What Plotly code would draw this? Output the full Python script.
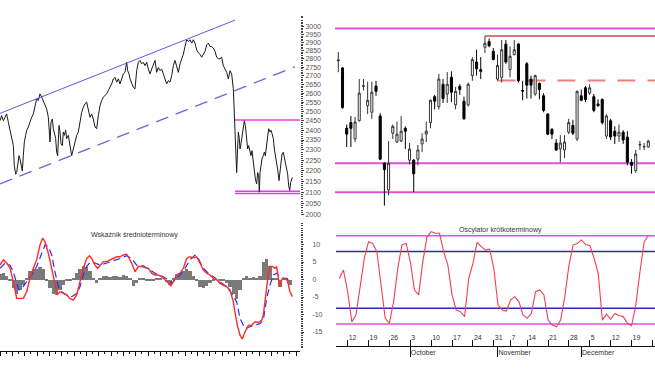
import plotly.graph_objects as go
import pandas as pd

W, H = 655, 369
FONT = "Liberation Sans, Arial, sans-serif"

# ---------------- top-left: long-term closing prices ----------------
left_session = [0,5,10,15,20,25,30,35,40,43,47,50,53,57,60,63,67,70,73,77,80,85,90,95,100,105,110,115,120,125,
                130,135,140,145,150,153,157,160,163,167,170,173,177,180,183,187,190,193,197,200,205,210,215,220,225,230,235,240,245,250,
                255,260,265,270,275,280,285,290,295,300,305,310,315,320,325,330,335,340,345,350,355,360,365,370,375,380,383,387,390,395,
                400,405,410,415,420,425,430,435,440,445,450,455,460,465,470,475,480,485,490,495,500,505,510,515,520,525,530,535,540,545,
                550,555,560,565,570,575,580,585,590,595,600,605,610,615,620,625,630,635,640,645,650,655,660,665,670,675,680,685,690,695,
                698,700,702,704,706,708,710,712,715,718,720,723,727,730,733,736,740,743,746,750,753,756,760,763,766,770,773,776,778,780,
                783,786,790,793,796,800,803,806,810,813,816,820,823,827,830,833,837,840,843,846,850,853,856,860,863,866,869,872,875,877]
left_close = [2450,2477,2450,2468,2486,2442,2400,2374,2322,2223,2183,2191,2240,2272,2256,2223,2198,2272,2340,2374,
              2400,2417,2450,2468,2486,2522,2568,2559,2596,2578,2559,2541,2513,2468,2340,2442,2459,2408,2383,2357,
              2289,2272,2425,2391,2331,2322,2391,2374,2400,2357,2374,2322,2272,2305,2340,2374,2391,2442,2494,2522,
              2541,2550,2513,2468,2486,2459,2417,2408,2477,2531,2559,2578,2587,2596,2615,2633,2652,2681,2690,2662,
              2681,2652,2681,2710,2719,2779,2729,2710,2681,2652,2633,2624,2729,2779,2790,2769,2779,2758,2779,2738,
              2710,2738,2769,2790,2719,2748,2729,2738,2710,2681,2652,2671,2662,2700,2758,2790,2748,2719,2769,2800,
              2827,2875,2917,2906,2917,2896,2917,2896,2854,2836,2827,2809,2827,2845,2885,2896,2875,2875,2865,2845,
              2809,2800,2800,2809,2758,2738,2719,2681,2729,2710,2662,2624,2531,2425,2340,2256,2191,2272,2391,2357,
              2305,2331,2374,2400,2450,2425,2340,2305,2322,2289,2272,2297,2240,2183,2161,2138,2191,2176,2100,2191,
              2240,2256,2272,2289,2272,2322,2357,2408,2391,2400,2383,2357,2305,2272,2240,2206,2153,2206,2256,2280,
              2289,2264,2223,2206,2183,2130,2108,2145,2161,2168]
channel_top_x = [0, 705]
channel_top_y = [2489, 3043]
channel_bottom_x = [0, 885]
channel_bottom_y = [2138, 2752]
left_levels_start = 705
left_resistance = [2453]
left_support = [2104, 2094]
left_session_max = 900

# ---------------- top-right: daily candles ----------------
holidays = ["2011-11-01", "2011-11-11"]
candle_dates = [d for d in pd.bdate_range("2011-09-08", "2011-12-23") if d.strftime("%Y-%m-%d") not in holidays]
opens = [2788,2745,2410,2440,2355,2450,2638,2530,2495,2640,2475,2235,2110,2385,2340,2345,2410,2250,2250,2255,
         2330,2380,2440,2580,2525,2650,2595,2690,2535,2638,2555,2535,2700,2780,2735,2870,2905,2845,2680,2690,
         2890,2735,2825,2890,2615,2770,2680,2595,2655,2585,2485,2405,2335,2305,2300,2390,2425,2355,2585,2630,
         2600,2580,2540,2565,2370,2450,2395,2370,2390,2365,2240,2200,2325,2315,2315]
highs = [2840,2750,2430,2475,2470,2680,2680,2665,2665,2670,2490,2240,2345,2430,2445,2475,2420,2335,2255,2325,
         2385,2445,2565,2590,2710,2680,2720,2725,2635,2650,2580,2660,2810,2855,2810,2940,2925,2865,2825,2915,
         2915,2875,2915,2895,2670,2780,2700,2705,2660,2600,2490,2410,2355,2375,2375,2460,2455,2615,2620,2640,
         2650,2595,2565,2570,2485,2460,2420,2430,2400,2395,2255,2300,2345,2335,2350]
lows = [2720,2515,2315,2315,2340,2445,2615,2485,2460,2585,2250,2040,2085,2355,2335,2340,2305,2230,2100,2225,
        2290,2340,2410,2510,2510,2545,2545,2550,2510,2590,2455,2525,2670,2700,2680,2835,2870,2790,2670,2660,
        2770,2690,2820,2660,2560,2570,2570,2585,2565,2495,2375,2355,2295,2240,2260,2380,2375,2345,2555,2550,
        2590,2495,2525,2430,2355,2350,2330,2340,2330,2225,2185,2190,2300,2300,2312]
closes = [2792,2520,2380,2410,2443,2600,2641,2560,2605,2610,2255,2205,2235,2420,2380,2395,2395,2305,2185,2300,
          2355,2395,2560,2555,2680,2570,2650,2605,2610,2620,2460,2650,2795,2740,2725,2895,2880,2795,2760,2855,
          2780,2815,2855,2670,2612,2645,2645,2700,2620,2505,2380,2380,2300,2335,2340,2440,2385,2610,2560,2565,
          2630,2505,2530,2440,2475,2365,2370,2390,2350,2240,2225,2280,2327,2317,2345]
right_levels_magenta = [2988, 2235, 2100]
peak_level = 2940
peak_level_start = 35
pullback_level = 2671
pullback_level_start = 38

price_ticks = list(range(2000, 3001, 50))
price_minor = [v for v in range(1990, 3080, 10) if v % 50]

# ---------------- bottom-left: medium-term indicator ----------------
macd_x = [0,10,20,30,40,45,50,60,70,80,90,100,110,120,128,135,145,155,165,172,180,190,200,210,220,230,240,250,260,268,
          275,285,293,300,310,320,330,340,350,360,370,380,385,395,405,415,425,435,445,455,465,475,485,495,505,513,520,530,540,550,
          560,570,580,590,600,610,620,630,640,650,660,670,680,690,700,705,712,720,727,735,745,755,765,775,785,790,795,800,805,810,
          818,825,830,835,840,845,850,857,863,870,877]
macd_vals = [4.1,5.6,4.7,3.3,-0.6,-3.5,-5.4,-5.4,-5.4,-3.5,0.3,3.2,5.6,9.9,11.8,10.8,7.5,3.2,-1.6,-4.4,
             -3.5,-4.0,-4.4,-5.4,-5.9,-4.4,-0.6,3.2,6.0,6.8,6.0,4.1,3.2,4.1,5.1,5.1,5.6,6.0,6.5,6.5,
             7.0,7.2,6.5,4.7,2.2,3.7,3.7,3.4,3.2,1.8,1.3,1.3,0.8,-0.1,-1.1,-1.8,-0.6,1.3,1.8,3.2,
             6.0,6.5,6.2,6.5,4.7,2.7,1.8,1.3,0.3,-0.1,-1.1,-1.6,-2.1,-3.0,-6.4,-9.3,-13.1,-15.9,-17.0,-15.0,
             -13.1,-13.1,-12.1,-12.3,-11.6,-10.2,-6.4,-2.6,1.7,3.7,3.7,3.2,3.7,0.3,-2.1,-0.1,0.3,0.3,-0.6,-3.5,-4.9]
signal_x = [0,15,30,40,50,57,65,80,95,110,120,135,145,155,165,175,185,200,215,230,240,250,260,272,285,300,320,340,360,380,
            395,410,430,450,470,490,505,515,525,540,555,570,585,595,610,625,640,660,680,695,710,720,735,750,765,780,790,800,810,820,
            830,840,850,860,870]
signal_vals = [3.2,4.7,4.1,2.2,-1.1,-3.0,-2.6,-0.6,1.3,3.7,6.0,9.9,9.4,7.0,2.2,-2.1,-3.5,-4.4,-4.9,-4.0,
               -2.1,1.3,3.7,5.1,4.7,4.1,4.7,5.3,6.0,6.8,6.0,4.1,3.9,2.7,1.5,0.8,-0.1,-1.1,-0.1,1.3,
               3.2,5.6,7.0,6.0,3.2,1.8,0.8,-0.6,-2.1,-4.0,-6.4,-11.1,-14.0,-13.5,-13.1,-12.6,-11.6,-5.4,-1.6,1.3,
               1.8,0.8,0.3,0.3,-0.6]
hist_x = list(range(0, 880, 10))
hist_vals = [1.5,2.0,1.0,-0.5,-2.5,-4.0,-3.0,-1.5,0.5,2.5,
             3.0,3.0,3.5,3.0,-0.5,-2.5,-4.0,-4.5,-3.0,-1.5,
             -0.5,-0.3,0.5,2.0,3.0,3.8,3.5,2.5,0.5,-1.0,
             0.5,1.0,1.0,0.8,1.0,1.0,0.8,1.2,1.0,0.2,
             -1.8,-1.0,0.5,0.3,-0.3,-0.5,-0.3,0.2,0.3,0.0,
             -0.8,-1.5,0.5,1.5,2.0,2.5,3.0,2.5,1.0,-0.5,
             -2.0,-2.5,-1.8,-1.0,-0.5,0.0,-0.3,-0.5,-1.0,-2.0,
             -4.0,-5.5,-3.0,0.5,1.0,0.5,0.8,0.5,1.0,5.0,
             6.0,4.0,0.5,0.5,-2.0,0.5,0.2,-1.5]
ind_ticks = [-15, -10, -5, 0, 5, 10]
ind_minor = [v / 2 for v in range(-40, 33) if v % 10]

# ---------------- bottom-right: short-term oscillator ----------------
osc_vals = [0.3,2.7,-3.5,-12.1,-10.1,-2.5,6.1,10.8,10.3,7.9,
            -1.6,-11.1,-12.5,-6.3,3.2,9.9,10.3,5.1,-3.0,-4.4,
            5.1,12.2,13.7,13.2,13.2,7.9,4.1,-4.4,-8.7,-9.2,
            -10.6,0.3,4.6,10.6,9.4,8.4,8.7,3.2,-7.3,-8.7,
            -9.0,-5.9,-4.9,-6.3,-10.1,-11.1,-9.7,-3.5,-3.0,-4.4,
            -11.6,-13.0,-13.5,-11.6,-4.9,4.1,9.9,10.3,11.3,10.0,
            9.7,6.1,1.8,-11.6,-9.9,-11.3,-9.7,-10.3,-10.6,-12.5,
            -13.2,-7.3,2.2,10.8,12.5]
osc_outer = [12.5, -12.7]
osc_inner = [8.0, -8.2]

# ---------------- derived positions ----------------
pos = list(range(len(candle_dates)))
week_pos = [i for i, d in enumerate(candle_dates) if d.weekday() == 0]
week_txt = [str(candle_dates[i].day) for i in week_pos]
week_pos.append(len(candle_dates))  # Monday 26 Dec (holiday) at the edge
week_txt.append("26")
month_pos = [i for i in range(1, len(candle_dates)) if candle_dates[i].month != candle_dates[i - 1].month]
month_names = {10: "October", 11: "November", 12: "December"}
month_txt = [month_names[candle_dates[i].month] for i in month_pos]

def py(px):
    return 1 - px / H

def pxx(px):
    return px / W

R_RANGE = [-0.79, 75.6]

fig = go.Figure()

# top-left
fig.add_trace(go.Scatter(x=left_session, y=left_close, mode="lines", line=dict(color="#1a1a1a", width=1),
                         xaxis="x", yaxis="y"))
fig.add_trace(go.Scatter(x=channel_top_x, y=channel_top_y, mode="lines", line=dict(color="#5a5ae6", width=1),
                         xaxis="x", yaxis="y"))
fig.add_trace(go.Scatter(x=channel_bottom_x, y=channel_bottom_y, mode="lines",
                         line=dict(color="#6464e8", width=1.2, dash="13px,8px"), xaxis="x", yaxis="y"))

# top-right candles
fig.add_trace(go.Candlestick(x=pos, open=opens, high=highs, low=lows, close=closes,
                             increasing=dict(line=dict(color="#333333", width=1), fillcolor="white"),
                             decreasing=dict(line=dict(color="#000000", width=1), fillcolor="#000000"),
                             whiskerwidth=0, xaxis="x2", yaxis="y2"))

# bottom-left indicator
fig.add_trace(go.Bar(x=hist_x, y=hist_vals, width=10, marker=dict(color="#7a7a7a", line=dict(width=0)),
                     xaxis="x3", yaxis="y3"))
fig.add_trace(go.Scatter(x=signal_x, y=signal_vals, mode="lines",
                         line=dict(color="#2a2aff", width=1.2, dash="7px,4px"), xaxis="x3", yaxis="y3"))
fig.add_trace(go.Scatter(x=macd_x, y=macd_vals, mode="lines", line=dict(color="#ff2a2a", width=1.4),
                         xaxis="x3", yaxis="y3"))

# bottom-right oscillator
fig.add_trace(go.Scatter(x=pos, y=osc_vals, mode="lines", line=dict(color="#f04050", width=1.1),
                         xaxis="x4", yaxis="y4"))

shapes = []
for v in left_resistance + left_support:
    shapes.append(dict(type="line", xref="x", yref="y", x0=left_levels_start, x1=left_session_max, y0=v, y1=v,
                       line=dict(color="#e040e0", width=1.5), layer="below"))
for v in right_levels_magenta:
    shapes.append(dict(type="line", xref="x2 domain", yref="y2", x0=0, x1=1, y0=v, y1=v,
                       line=dict(color="#e050e0", width=2), layer="below"))
shapes.append(dict(type="line", xref="x2", yref="y2", x0=peak_level_start, x1=R_RANGE[1], y0=peak_level, y1=peak_level,
                   line=dict(color="#d04848", width=1.5), layer="below"))
shapes.append(dict(type="line", xref="x2", yref="y2", x0=pullback_level_start, x1=R_RANGE[1], y0=pullback_level,
                   y1=pullback_level, line=dict(color="#f08080", width=2, dash="18px,12px"), layer="below"))
for v in osc_outer:
    shapes.append(dict(type="line", xref="x4 domain", yref="y4", x0=0, x1=1, y0=v, y1=v,
                       line=dict(color="#e050e0", width=1.5), layer="below"))
for v in osc_inner:
    shapes.append(dict(type="line", xref="x4 domain", yref="y4", x0=0, x1=1, y0=v, y1=v,
                       line=dict(color="#2b2bb0", width=1.5), layer="below"))

tickfont = dict(family=FONT, size=7, color="#555555")

fig.update_layout(
    width=W, height=H, margin=dict(l=0, r=0, t=0, b=0),
    paper_bgcolor="white", plot_bgcolor="white", showlegend=False, bargap=0,
    font=dict(family=FONT, size=7, color="#444444"),
    shapes=shapes,
    xaxis=dict(domain=[0, pxx(300)], range=[0, left_session_max], visible=False, anchor="y"),
    yaxis=dict(domain=[py(217), py(15)], type="log", range=[3.299, 3.4881], side="right", anchor="x",
               tickmode="array", tickvals=price_ticks, ticktext=[str(v) for v in price_ticks],
               ticks="outside", ticklen=3, tickcolor="#444444", tickfont=tickfont,
               showgrid=False, zeroline=False, showline=False,
               minor=dict(tickmode="array", tickvals=price_minor, ticks="outside", ticklen=1.5,
                          tickcolor="#444444", showgrid=False)),
    xaxis2=dict(domain=[pxx(335), 1], range=R_RANGE, visible=False, anchor="y2",
                rangeslider=dict(visible=False)),
    yaxis2=dict(domain=[py(217), py(15)], type="log", range=[3.299, 3.4881], visible=False, anchor="x2"),
    xaxis3=dict(domain=[0, pxx(300)], range=[0, left_session_max], anchor="y3", showline=True, linecolor="#111111",
                linewidth=1, showgrid=False, zeroline=False, showticklabels=False,
                tickmode="linear", tick0=0, dtick=37, ticks="outside", ticklen=4, tickcolor="#111111",
                minor=dict(dtick=18.5, tick0=0, ticks="outside", ticklen=2, tickcolor="#111111")),
    yaxis3=dict(domain=[py(351), py(222)], range=[-20.43, 16.43], side="right", anchor="x3",
                tickmode="array", tickvals=ind_ticks, ticktext=[str(v) for v in ind_ticks],
                ticks="outside", ticklen=3, tickcolor="#444444", tickfont=tickfont, ticklabelstandoff=7,
                showgrid=False, zeroline=False, showline=False,
                minor=dict(tickmode="array", tickvals=ind_minor, ticks="outside", ticklen=1.5,
                           tickcolor="#444444", showgrid=False)),
    xaxis4=dict(domain=[pxx(336), 1], range=R_RANGE, anchor="y4", showline=True, linecolor="#111111", linewidth=1,
                showgrid=False, zeroline=False, tickmode="array", tickvals=week_pos, ticktext=week_txt,
                ticks="inside", ticklen=6, tickcolor="#111111", ticklabelposition="inside right",
                tickfont=dict(family=FONT, size=7, color="#333333")),
    xaxis5=dict(domain=[pxx(336), 1], range=R_RANGE, anchor="y4", overlaying="x4", side="bottom",
                showline=False, showgrid=False, zeroline=False, tickmode="array", tickvals=month_pos,
                ticktext=month_txt, ticks="outside", ticklen=10, tickcolor="#111111",
                ticklabelposition="outside right", tickfont=dict(family=FONT, size=7, color="#333333")),
    yaxis4=dict(domain=[py(346), py(222)], range=[-19.0, 16.43], visible=False, anchor="x4"),
    annotations=[
        dict(text="Wskaźnik średnioterminowy", xref="paper", yref="paper", x=pxx(134), y=py(235),
             xanchor="center", yanchor="middle", showarrow=False,
             font=dict(family=FONT, size=7, color="#333333")),
        dict(text="Oscylator krótkoterminowy", xref="paper", yref="paper", x=pxx(500), y=py(230),
             xanchor="center", yanchor="middle", showarrow=False,
             font=dict(family=FONT, size=7, color="#333333")),
    ],
)

# invisible point so the month axis is drawn
fig.add_trace(go.Scatter(x=[pos[0]], y=[osc_vals[0]], mode="markers", marker=dict(opacity=0),
                         xaxis="x5", yaxis="y4", hoverinfo="skip"))

fig.write_html("out.html", config={"displayModeBar": False},
               post_script="document.body.style.margin='0';")
